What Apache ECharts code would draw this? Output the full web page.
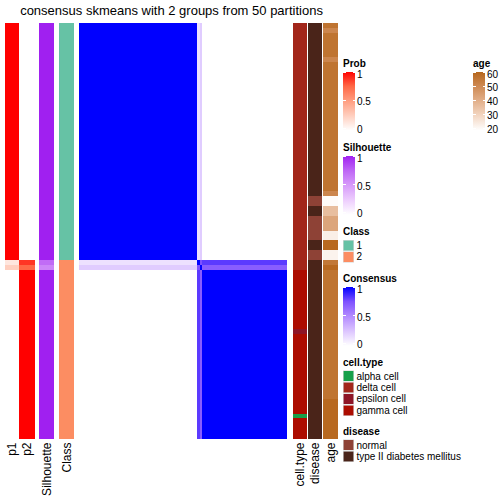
<!DOCTYPE html>
<html><head><meta charset="utf-8">
<script src="https://cdn.jsdelivr.net/npm/echarts@6/dist/echarts.min.js"></script>
<style>html,body{margin:0;padding:0;background:#fff}#c{width:504px;height:504px}
#c svg path,#c svg rect{shape-rendering:crispEdges}</style>
</head><body><div id="c"></div>
<script>
// ---------------- data ----------------
const titleText = 'consensus skmeans with 2 groups from 50 partitions';
const probCols = ['p1', 'p2'];
const p1 = [
  1,1,1,1,1,1,1,1,1,1,1,1,
  1,1,1,1,1,1,1,1,1,1,1,1,
  1,1,1,1,1,1,1,1,1,1,1,1,
  1,1,1,1,1,1,1,1,1,1,1,1,
  0.13,0.25,
  0,0,0,0,0,0,0,0,0,0,0,0,
  0,0,0,0,0,0,0,0,0,0,0,0,
  0,0,0,0,0,0,0,0,0,0
];
const p2 = [
  0,0,0,0,0,0,0,0,0,0,0,0,
  0,0,0,0,0,0,0,0,0,0,0,0,
  0,0,0,0,0,0,0,0,0,0,0,0,
  0,0,0,0,0,0,0,0,0,0,0,0,
  0.87,0.75,
  1,1,1,1,1,1,1,1,1,1,1,1,
  1,1,1,1,1,1,1,1,1,1,1,1,
  1,1,1,1,1,1,1,1,1,1
];
const silhouette = [
  1,1,1,1,1,1,1,1,1,1,1,1,
  1,1,1,1,1,1,1,1,1,1,1,1,
  1,1,1,1,1,1,1,1,1,1,1,1,
  1,1,1,1,1,1,1,1,1,1,1,1,
  0.72,0.6,
  1,1,1,1,1,1,1,1,1,1,1,1,
  1,1,1,1,1,1,1,1,1,1,1,1,
  1,1,1,1,1,1,1,1,1,1
];
const classLabels = ['1', '2'];
const classOf = [
  0,0,0,0,0,0,0,0,0,0,0,0,
  0,0,0,0,0,0,0,0,0,0,0,0,
  0,0,0,0,0,0,0,0,0,0,0,0,
  0,0,0,0,0,0,0,0,0,0,0,0,
  1,1,
  1,1,1,1,1,1,1,1,1,1,1,1,
  1,1,1,1,1,1,1,1,1,1,1,1,
  1,1,1,1,1,1,1,1,1,1
];
const cellTypeLabels = ['alpha cell', 'delta cell', 'epsilon cell', 'gamma cell'];
const cellType = [
  1,1,1,1,1,1,1,1,1,1,1,1,
  1,1,1,1,1,1,1,1,1,1,1,1,
  1,1,1,1,1,1,1,1,1,1,1,1,
  1,1,1,1,1,1,1,1,1,1,1,1,
  1,1,
  3,3,3,3,3,3,3,3,3,3,3,3,
  2,3,3,3,3,3,3,3,3,3,3,3,
  3,3,3,3,3,0,3,3,3,3
];
const diseaseLabels = ['normal', 'type II diabetes mellitus'];
const disease = [
  1,1,1,1,1,1,1,1,1,1,1,1,
  1,1,1,1,1,1,1,1,1,1,1,1,
  1,1,1,1,1,1,1,1,1,1,1,0,
  0,1,1,0,0,0,0,0,1,1,0,0,
  1,1,
  1,1,1,1,1,1,1,1,1,1,1,1,
  1,1,1,1,1,1,1,1,1,1,1,1,
  1,1,1,1,1,1,1,1,1,1
];
const age = [
  56,51,56,56,56,56,56,51,56,56,56,56,
  56,56,56,56,56,56,56,56,56,56,56,56,
  56,56,56,56,56,56,56,56,56,56,51,21,
  21,36.5,36.5,43,43,43,24,24,59,59,23,23,
  55,59,
  56,56,56,56,56,56,56,56,56,56,56,56,
  56,56,56,56,56,56,56,56,56,56,56,56,
  56,56,59,59,59,59,59,59,59,59
];
// consensus matrix, one string per row (codes below)
const consensusCodes = { A: 1, B: 0, c: 0.13, d: 0.22, e: 0.82, f: 0.7, g: 0.75 };
const consensusRows = [
  'AAAAAAAAAAAA AAAAAAAAAAAA AAAAAAAAAAAA AAAAAAAAAAAA cd BBBBBBBBBBBB BBBBBBBBBBBB BBBBBBBBBB',
  'AAAAAAAAAAAA AAAAAAAAAAAA AAAAAAAAAAAA AAAAAAAAAAAA cd BBBBBBBBBBBB BBBBBBBBBBBB BBBBBBBBBB',
  'AAAAAAAAAAAA AAAAAAAAAAAA AAAAAAAAAAAA AAAAAAAAAAAA cd BBBBBBBBBBBB BBBBBBBBBBBB BBBBBBBBBB',
  'AAAAAAAAAAAA AAAAAAAAAAAA AAAAAAAAAAAA AAAAAAAAAAAA cd BBBBBBBBBBBB BBBBBBBBBBBB BBBBBBBBBB',
  'AAAAAAAAAAAA AAAAAAAAAAAA AAAAAAAAAAAA AAAAAAAAAAAA cd BBBBBBBBBBBB BBBBBBBBBBBB BBBBBBBBBB',
  'AAAAAAAAAAAA AAAAAAAAAAAA AAAAAAAAAAAA AAAAAAAAAAAA cd BBBBBBBBBBBB BBBBBBBBBBBB BBBBBBBBBB',
  'AAAAAAAAAAAA AAAAAAAAAAAA AAAAAAAAAAAA AAAAAAAAAAAA cd BBBBBBBBBBBB BBBBBBBBBBBB BBBBBBBBBB',
  'AAAAAAAAAAAA AAAAAAAAAAAA AAAAAAAAAAAA AAAAAAAAAAAA cd BBBBBBBBBBBB BBBBBBBBBBBB BBBBBBBBBB',
  'AAAAAAAAAAAA AAAAAAAAAAAA AAAAAAAAAAAA AAAAAAAAAAAA cd BBBBBBBBBBBB BBBBBBBBBBBB BBBBBBBBBB',
  'AAAAAAAAAAAA AAAAAAAAAAAA AAAAAAAAAAAA AAAAAAAAAAAA cd BBBBBBBBBBBB BBBBBBBBBBBB BBBBBBBBBB',
  'AAAAAAAAAAAA AAAAAAAAAAAA AAAAAAAAAAAA AAAAAAAAAAAA cd BBBBBBBBBBBB BBBBBBBBBBBB BBBBBBBBBB',
  'AAAAAAAAAAAA AAAAAAAAAAAA AAAAAAAAAAAA AAAAAAAAAAAA cd BBBBBBBBBBBB BBBBBBBBBBBB BBBBBBBBBB',
  'AAAAAAAAAAAA AAAAAAAAAAAA AAAAAAAAAAAA AAAAAAAAAAAA cd BBBBBBBBBBBB BBBBBBBBBBBB BBBBBBBBBB',
  'AAAAAAAAAAAA AAAAAAAAAAAA AAAAAAAAAAAA AAAAAAAAAAAA cd BBBBBBBBBBBB BBBBBBBBBBBB BBBBBBBBBB',
  'AAAAAAAAAAAA AAAAAAAAAAAA AAAAAAAAAAAA AAAAAAAAAAAA cd BBBBBBBBBBBB BBBBBBBBBBBB BBBBBBBBBB',
  'AAAAAAAAAAAA AAAAAAAAAAAA AAAAAAAAAAAA AAAAAAAAAAAA cd BBBBBBBBBBBB BBBBBBBBBBBB BBBBBBBBBB',
  'AAAAAAAAAAAA AAAAAAAAAAAA AAAAAAAAAAAA AAAAAAAAAAAA cd BBBBBBBBBBBB BBBBBBBBBBBB BBBBBBBBBB',
  'AAAAAAAAAAAA AAAAAAAAAAAA AAAAAAAAAAAA AAAAAAAAAAAA cd BBBBBBBBBBBB BBBBBBBBBBBB BBBBBBBBBB',
  'AAAAAAAAAAAA AAAAAAAAAAAA AAAAAAAAAAAA AAAAAAAAAAAA cd BBBBBBBBBBBB BBBBBBBBBBBB BBBBBBBBBB',
  'AAAAAAAAAAAA AAAAAAAAAAAA AAAAAAAAAAAA AAAAAAAAAAAA cd BBBBBBBBBBBB BBBBBBBBBBBB BBBBBBBBBB',
  'AAAAAAAAAAAA AAAAAAAAAAAA AAAAAAAAAAAA AAAAAAAAAAAA cd BBBBBBBBBBBB BBBBBBBBBBBB BBBBBBBBBB',
  'AAAAAAAAAAAA AAAAAAAAAAAA AAAAAAAAAAAA AAAAAAAAAAAA cd BBBBBBBBBBBB BBBBBBBBBBBB BBBBBBBBBB',
  'AAAAAAAAAAAA AAAAAAAAAAAA AAAAAAAAAAAA AAAAAAAAAAAA cd BBBBBBBBBBBB BBBBBBBBBBBB BBBBBBBBBB',
  'AAAAAAAAAAAA AAAAAAAAAAAA AAAAAAAAAAAA AAAAAAAAAAAA cd BBBBBBBBBBBB BBBBBBBBBBBB BBBBBBBBBB',
  'AAAAAAAAAAAA AAAAAAAAAAAA AAAAAAAAAAAA AAAAAAAAAAAA cd BBBBBBBBBBBB BBBBBBBBBBBB BBBBBBBBBB',
  'AAAAAAAAAAAA AAAAAAAAAAAA AAAAAAAAAAAA AAAAAAAAAAAA cd BBBBBBBBBBBB BBBBBBBBBBBB BBBBBBBBBB',
  'AAAAAAAAAAAA AAAAAAAAAAAA AAAAAAAAAAAA AAAAAAAAAAAA cd BBBBBBBBBBBB BBBBBBBBBBBB BBBBBBBBBB',
  'AAAAAAAAAAAA AAAAAAAAAAAA AAAAAAAAAAAA AAAAAAAAAAAA cd BBBBBBBBBBBB BBBBBBBBBBBB BBBBBBBBBB',
  'AAAAAAAAAAAA AAAAAAAAAAAA AAAAAAAAAAAA AAAAAAAAAAAA cd BBBBBBBBBBBB BBBBBBBBBBBB BBBBBBBBBB',
  'AAAAAAAAAAAA AAAAAAAAAAAA AAAAAAAAAAAA AAAAAAAAAAAA cd BBBBBBBBBBBB BBBBBBBBBBBB BBBBBBBBBB',
  'AAAAAAAAAAAA AAAAAAAAAAAA AAAAAAAAAAAA AAAAAAAAAAAA cd BBBBBBBBBBBB BBBBBBBBBBBB BBBBBBBBBB',
  'AAAAAAAAAAAA AAAAAAAAAAAA AAAAAAAAAAAA AAAAAAAAAAAA cd BBBBBBBBBBBB BBBBBBBBBBBB BBBBBBBBBB',
  'AAAAAAAAAAAA AAAAAAAAAAAA AAAAAAAAAAAA AAAAAAAAAAAA cd BBBBBBBBBBBB BBBBBBBBBBBB BBBBBBBBBB',
  'AAAAAAAAAAAA AAAAAAAAAAAA AAAAAAAAAAAA AAAAAAAAAAAA cd BBBBBBBBBBBB BBBBBBBBBBBB BBBBBBBBBB',
  'AAAAAAAAAAAA AAAAAAAAAAAA AAAAAAAAAAAA AAAAAAAAAAAA cd BBBBBBBBBBBB BBBBBBBBBBBB BBBBBBBBBB',
  'AAAAAAAAAAAA AAAAAAAAAAAA AAAAAAAAAAAA AAAAAAAAAAAA cd BBBBBBBBBBBB BBBBBBBBBBBB BBBBBBBBBB',
  'AAAAAAAAAAAA AAAAAAAAAAAA AAAAAAAAAAAA AAAAAAAAAAAA cd BBBBBBBBBBBB BBBBBBBBBBBB BBBBBBBBBB',
  'AAAAAAAAAAAA AAAAAAAAAAAA AAAAAAAAAAAA AAAAAAAAAAAA cd BBBBBBBBBBBB BBBBBBBBBBBB BBBBBBBBBB',
  'AAAAAAAAAAAA AAAAAAAAAAAA AAAAAAAAAAAA AAAAAAAAAAAA cd BBBBBBBBBBBB BBBBBBBBBBBB BBBBBBBBBB',
  'AAAAAAAAAAAA AAAAAAAAAAAA AAAAAAAAAAAA AAAAAAAAAAAA cd BBBBBBBBBBBB BBBBBBBBBBBB BBBBBBBBBB',
  'AAAAAAAAAAAA AAAAAAAAAAAA AAAAAAAAAAAA AAAAAAAAAAAA cd BBBBBBBBBBBB BBBBBBBBBBBB BBBBBBBBBB',
  'AAAAAAAAAAAA AAAAAAAAAAAA AAAAAAAAAAAA AAAAAAAAAAAA cd BBBBBBBBBBBB BBBBBBBBBBBB BBBBBBBBBB',
  'AAAAAAAAAAAA AAAAAAAAAAAA AAAAAAAAAAAA AAAAAAAAAAAA cd BBBBBBBBBBBB BBBBBBBBBBBB BBBBBBBBBB',
  'AAAAAAAAAAAA AAAAAAAAAAAA AAAAAAAAAAAA AAAAAAAAAAAA cd BBBBBBBBBBBB BBBBBBBBBBBB BBBBBBBBBB',
  'AAAAAAAAAAAA AAAAAAAAAAAA AAAAAAAAAAAA AAAAAAAAAAAA cd BBBBBBBBBBBB BBBBBBBBBBBB BBBBBBBBBB',
  'AAAAAAAAAAAA AAAAAAAAAAAA AAAAAAAAAAAA AAAAAAAAAAAA cd BBBBBBBBBBBB BBBBBBBBBBBB BBBBBBBBBB',
  'AAAAAAAAAAAA AAAAAAAAAAAA AAAAAAAAAAAA AAAAAAAAAAAA cd BBBBBBBBBBBB BBBBBBBBBBBB BBBBBBBBBB',
  'AAAAAAAAAAAA AAAAAAAAAAAA AAAAAAAAAAAA AAAAAAAAAAAA cd BBBBBBBBBBBB BBBBBBBBBBBB BBBBBBBBBB',
  'cccccccccccc cccccccccccc cccccccccccc cccccccccccc Ag eeeeeeeeeeee eeeeeeeeeeee eeeeeeeeee',
  'dddddddddddd dddddddddddd dddddddddddd dddddddddddd gA ffffffffffff ffffffffffff ffffffffff',
  'BBBBBBBBBBBB BBBBBBBBBBBB BBBBBBBBBBBB BBBBBBBBBBBB ef AAAAAAAAAAAA AAAAAAAAAAAA AAAAAAAAAA',
  'BBBBBBBBBBBB BBBBBBBBBBBB BBBBBBBBBBBB BBBBBBBBBBBB ef AAAAAAAAAAAA AAAAAAAAAAAA AAAAAAAAAA',
  'BBBBBBBBBBBB BBBBBBBBBBBB BBBBBBBBBBBB BBBBBBBBBBBB ef AAAAAAAAAAAA AAAAAAAAAAAA AAAAAAAAAA',
  'BBBBBBBBBBBB BBBBBBBBBBBB BBBBBBBBBBBB BBBBBBBBBBBB ef AAAAAAAAAAAA AAAAAAAAAAAA AAAAAAAAAA',
  'BBBBBBBBBBBB BBBBBBBBBBBB BBBBBBBBBBBB BBBBBBBBBBBB ef AAAAAAAAAAAA AAAAAAAAAAAA AAAAAAAAAA',
  'BBBBBBBBBBBB BBBBBBBBBBBB BBBBBBBBBBBB BBBBBBBBBBBB ef AAAAAAAAAAAA AAAAAAAAAAAA AAAAAAAAAA',
  'BBBBBBBBBBBB BBBBBBBBBBBB BBBBBBBBBBBB BBBBBBBBBBBB ef AAAAAAAAAAAA AAAAAAAAAAAA AAAAAAAAAA',
  'BBBBBBBBBBBB BBBBBBBBBBBB BBBBBBBBBBBB BBBBBBBBBBBB ef AAAAAAAAAAAA AAAAAAAAAAAA AAAAAAAAAA',
  'BBBBBBBBBBBB BBBBBBBBBBBB BBBBBBBBBBBB BBBBBBBBBBBB ef AAAAAAAAAAAA AAAAAAAAAAAA AAAAAAAAAA',
  'BBBBBBBBBBBB BBBBBBBBBBBB BBBBBBBBBBBB BBBBBBBBBBBB ef AAAAAAAAAAAA AAAAAAAAAAAA AAAAAAAAAA',
  'BBBBBBBBBBBB BBBBBBBBBBBB BBBBBBBBBBBB BBBBBBBBBBBB ef AAAAAAAAAAAA AAAAAAAAAAAA AAAAAAAAAA',
  'BBBBBBBBBBBB BBBBBBBBBBBB BBBBBBBBBBBB BBBBBBBBBBBB ef AAAAAAAAAAAA AAAAAAAAAAAA AAAAAAAAAA',
  'BBBBBBBBBBBB BBBBBBBBBBBB BBBBBBBBBBBB BBBBBBBBBBBB ef AAAAAAAAAAAA AAAAAAAAAAAA AAAAAAAAAA',
  'BBBBBBBBBBBB BBBBBBBBBBBB BBBBBBBBBBBB BBBBBBBBBBBB ef AAAAAAAAAAAA AAAAAAAAAAAA AAAAAAAAAA',
  'BBBBBBBBBBBB BBBBBBBBBBBB BBBBBBBBBBBB BBBBBBBBBBBB ef AAAAAAAAAAAA AAAAAAAAAAAA AAAAAAAAAA',
  'BBBBBBBBBBBB BBBBBBBBBBBB BBBBBBBBBBBB BBBBBBBBBBBB ef AAAAAAAAAAAA AAAAAAAAAAAA AAAAAAAAAA',
  'BBBBBBBBBBBB BBBBBBBBBBBB BBBBBBBBBBBB BBBBBBBBBBBB ef AAAAAAAAAAAA AAAAAAAAAAAA AAAAAAAAAA',
  'BBBBBBBBBBBB BBBBBBBBBBBB BBBBBBBBBBBB BBBBBBBBBBBB ef AAAAAAAAAAAA AAAAAAAAAAAA AAAAAAAAAA',
  'BBBBBBBBBBBB BBBBBBBBBBBB BBBBBBBBBBBB BBBBBBBBBBBB ef AAAAAAAAAAAA AAAAAAAAAAAA AAAAAAAAAA',
  'BBBBBBBBBBBB BBBBBBBBBBBB BBBBBBBBBBBB BBBBBBBBBBBB ef AAAAAAAAAAAA AAAAAAAAAAAA AAAAAAAAAA',
  'BBBBBBBBBBBB BBBBBBBBBBBB BBBBBBBBBBBB BBBBBBBBBBBB ef AAAAAAAAAAAA AAAAAAAAAAAA AAAAAAAAAA',
  'BBBBBBBBBBBB BBBBBBBBBBBB BBBBBBBBBBBB BBBBBBBBBBBB ef AAAAAAAAAAAA AAAAAAAAAAAA AAAAAAAAAA',
  'BBBBBBBBBBBB BBBBBBBBBBBB BBBBBBBBBBBB BBBBBBBBBBBB ef AAAAAAAAAAAA AAAAAAAAAAAA AAAAAAAAAA',
  'BBBBBBBBBBBB BBBBBBBBBBBB BBBBBBBBBBBB BBBBBBBBBBBB ef AAAAAAAAAAAA AAAAAAAAAAAA AAAAAAAAAA',
  'BBBBBBBBBBBB BBBBBBBBBBBB BBBBBBBBBBBB BBBBBBBBBBBB ef AAAAAAAAAAAA AAAAAAAAAAAA AAAAAAAAAA',
  'BBBBBBBBBBBB BBBBBBBBBBBB BBBBBBBBBBBB BBBBBBBBBBBB ef AAAAAAAAAAAA AAAAAAAAAAAA AAAAAAAAAA',
  'BBBBBBBBBBBB BBBBBBBBBBBB BBBBBBBBBBBB BBBBBBBBBBBB ef AAAAAAAAAAAA AAAAAAAAAAAA AAAAAAAAAA',
  'BBBBBBBBBBBB BBBBBBBBBBBB BBBBBBBBBBBB BBBBBBBBBBBB ef AAAAAAAAAAAA AAAAAAAAAAAA AAAAAAAAAA',
  'BBBBBBBBBBBB BBBBBBBBBBBB BBBBBBBBBBBB BBBBBBBBBBBB ef AAAAAAAAAAAA AAAAAAAAAAAA AAAAAAAAAA',
  'BBBBBBBBBBBB BBBBBBBBBBBB BBBBBBBBBBBB BBBBBBBBBBBB ef AAAAAAAAAAAA AAAAAAAAAAAA AAAAAAAAAA',
  'BBBBBBBBBBBB BBBBBBBBBBBB BBBBBBBBBBBB BBBBBBBBBBBB ef AAAAAAAAAAAA AAAAAAAAAAAA AAAAAAAAAA',
  'BBBBBBBBBBBB BBBBBBBBBBBB BBBBBBBBBBBB BBBBBBBBBBBB ef AAAAAAAAAAAA AAAAAAAAAAAA AAAAAAAAAA',
  'BBBBBBBBBBBB BBBBBBBBBBBB BBBBBBBBBBBB BBBBBBBBBBBB ef AAAAAAAAAAAA AAAAAAAAAAAA AAAAAAAAAA',
  'BBBBBBBBBBBB BBBBBBBBBBBB BBBBBBBBBBBB BBBBBBBBBBBB ef AAAAAAAAAAAA AAAAAAAAAAAA AAAAAAAAAA'
];
const probTicks = [1, 0.5, 0];
const probTickLabels = ['1', '0.5', '0'];
const ageTicks = [60, 50, 40, 30, 20];
const ageTickLabels = ['60', '50', '40', '30', '20'];

// ---------------- styles ----------------
const redRamp = ['#FFFFFF', '#FFCFBF', '#FF9E81', '#FF6846', '#FF0000'];
const purpleRamp = ['#FFFFFF', '#EDCDFD', '#D79BFA', '#BE66F5', '#A020F0'];
const blueRamp = ['#FFFFFF', '#DCC5FF', '#B38BFF', '#7E51FF', '#0000FF'];
const ageRamp = ['#FFFFFF', '#F3D7C3', '#E2B08B', '#CE8A54', '#B5651A'];
const classColors = ['#66C2A5', '#FC8D62'];
const cellTypeColors = ['#16A04A', '#A2261A', '#8E1526', '#AC0C00'];
const diseaseColors = ['#8E4236', '#4A2419'];
const FONT = 'Liberation Sans, Arial, Helvetica, sans-serif';

const N = p1.length;
const rowIdx = p1.map((_, i) => String(i));
const consensusMatrix = consensusRows.map(r => r.replace(/ /g, '').split('').map(ch => consensusCodes[ch]));
consensusMatrix.forEach((r, i) => { if (r.length !== N) throw new Error('row ' + i + ' length ' + r.length); });

const TOP = 23, HEIGHT = 415.5;
const grids = [
  { left: 5, width: 29.3 },
  { left: 39, width: 15 },
  { left: 59, width: 15 },
  { left: 79, width: 207.7 },
  { left: 293, width: 14 },
  { left: 308, width: 14.2 },
  { left: 323, width: 15 }
].map(g => Object.assign({ top: TOP, height: HEIGHT, containLabel: false }, g));

const xCats = [probCols, ['Silhouette'], ['Class'], rowIdx, ['cell.type'], ['disease'], ['age']];
const xAxes = xCats.map((cats, gi) => ({
  gridIndex: gi, type: 'category', data: cats,
  axisLine: { show: false }, axisTick: { show: false }, splitLine: { show: false },
  axisLabel: gi === 3 ? { show: false } : {
    show: true, rotate: 90, interval: 0, margin: 4, fontSize: 12, color: '#000', fontFamily: FONT
  }
}));
const yAxes = xCats.map((_, gi) => ({ gridIndex: gi, type: 'category', data: rowIdx, inverse: true, show: false }));

const probData = [];
p1.forEach((v, i) => probData.push([0, i, v]));
p2.forEach((v, i) => probData.push([1, i, v]));
const consData = [];
consensusMatrix.forEach((r, i) => r.forEach((v, j) => consData.push([j, i, v])));

function hm(idx, data) {
  return { type: 'heatmap', xAxisIndex: idx, yAxisIndex: idx, data: data, progressive: 0,
    animation: false, emphasis: { disabled: true }, itemStyle: { borderWidth: 0 } };
}
const series = [
  hm(0, probData),
  hm(1, silhouette.map((v, i) => [0, i, v])),
  hm(2, classOf.map((v, i) => [0, i, v])),
  hm(3, consData),
  hm(4, cellType.map((v, i) => [0, i, v])),
  hm(5, disease.map((v, i) => [0, i, v])),
  hm(6, age.map((v, i) => [0, i, v]))
];
function cont(si, min, max, colors) {
  return { type: 'continuous', show: false, seriesIndex: si, dimension: 2, min: min, max: max, inRange: { color: colors } };
}
function piece(si, colors) {
  return { type: 'piecewise', show: false, seriesIndex: si, dimension: 2,
    pieces: colors.map((c, i) => ({ value: i, color: c })) };
}
const visualMap = [
  cont(0, 0, 1, redRamp), cont(1, 0, 1, purpleRamp), piece(2, classColors),
  cont(3, 0, 1, blueRamp), piece(4, cellTypeColors), piece(5, diseaseColors),
  cont(6, 20, 60, ageRamp)
];

// ---------------- legends (graphic) ----------------
const g = [];
function txt(x, y, t, size, bold, align) {
  g.push({ type: 'text', x: x, y: y, silent: true,
    style: { text: t, fill: '#000', fontSize: size, fontFamily: FONT, fontWeight: bold ? 'bold' : 'normal',
      align: align || 'left', textAlign: align || 'left', verticalAlign: 'middle', textVerticalAlign: 'middle' } });
}
function contLegend(title, x, ty, ramp, min, max, ticks, labels) {
  txt(x, ty, title, 10, true);
  const top = ty + 8.5, h = 59;
  g.push({ type: 'rect', silent: true, shape: { x: x, y: top, width: 12.3, height: h },
    style: { fill: { type: 'linear', x: 0, y: 0, x2: 0, y2: 1,
      colorStops: ramp.slice().reverse().map((c, i) => ({ offset: i / (ramp.length - 1), color: c })) } } });
  ticks.forEach((v, i) => {
    const y = ty + 11 + (max - v) / (max - min) * 55.5;
    const ly = Math.max(top + 1, Math.min(top + h - 1, y - 1.5));
    g.push({ type: 'line', silent: true, shape: { x1: x, y1: ly, x2: x + 2.5, y2: ly }, style: { stroke: '#fff', lineWidth: 1 } });
    g.push({ type: 'line', silent: true, shape: { x1: x + 9.8, y1: ly, x2: x + 12.3, y2: ly }, style: { stroke: '#fff', lineWidth: 1 } });
    txt(x + 14, y, labels[i], 10, false);
  });
}
function discLegend(title, x, ty, labels, colors) {
  txt(x, ty, title, 10, true);
  labels.forEach((l, i) => {
    const cy = ty + 13.8 + i * 11.4;
    g.push({ type: 'rect', silent: true, shape: { x: x, y: cy - 5.3, width: 10.7, height: 10.6 },
      style: { fill: colors[i], stroke: '#d8d8d8', lineWidth: 0.6 } });
    txt(x + 13.4, cy, l, 10, false);
  });
}
contLegend('Prob', 343, 63, redRamp, 0, 1, probTicks, probTickLabels);
contLegend('Silhouette', 343, 147.3, purpleRamp, 0, 1, probTicks, probTickLabels);
discLegend('Class', 343, 231.6, classLabels, classColors);
contLegend('Consensus', 343, 278.3, blueRamp, 0, 1, probTicks, probTickLabels);
discLegend('cell.type', 343, 362.3, cellTypeLabels, cellTypeColors);
discLegend('disease', 343, 431.2, diseaseLabels, diseaseColors);
contLegend('age', 473, 63, ageRamp, 20, 60, ageTicks, ageTickLabels);
txt(171.5, 10, titleText, 13, false, 'center');

const chart = echarts.init(document.getElementById('c'), null, { renderer: 'svg' });
chart.setOption({
  animation: false,
  backgroundColor: '#fff',
  grid: grids, xAxis: xAxes, yAxis: yAxes,
  visualMap: visualMap, series: series,
  graphic: { elements: g }
});
</script></body></html>
